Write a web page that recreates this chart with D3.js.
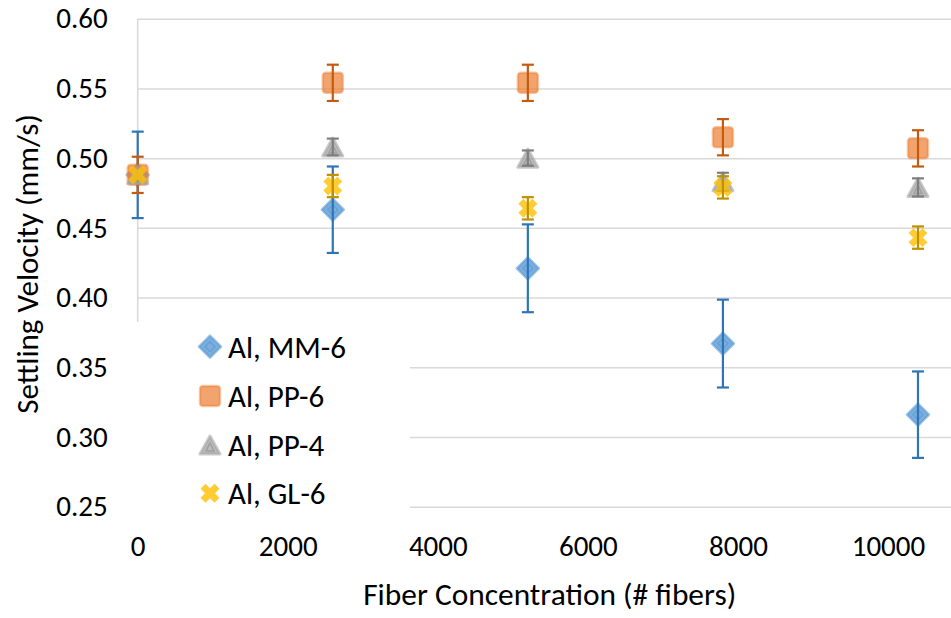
<!DOCTYPE html>
<html>
<head>
<meta charset="utf-8">
<script src="https://cdn.jsdelivr.net/npm/d3@7"></script>
<style>
  html, body { margin: 0; padding: 0; background: #fff; }
  svg { display: block; font-family: Carlito, Calibri, Lato, "Open Sans", sans-serif; }
</style>
</head>
<body>
<svg id="chart" width="951" height="618"></svg>
<script>
// ---- data ----
const fiberCounts = [0, 2600, 5200, 7800, 10400];
const seriesNames = ["Al, MM-6", "Al, PP-6", "Al, PP-4", "Al, GL-6"];
const mm6Values = [0.488, 0.463, 0.421, 0.367, 0.316];
const mm6Errors = [0.031, 0.031, 0.0315, 0.0315, 0.031];
const pp6Values = [0.488, 0.554, 0.554, 0.515, 0.507];
const pp6Errors = [0.013, 0.013, 0.013, 0.013, 0.013];
const pp4Values = [0.488, 0.508, 0.500, 0.483, 0.479];
const pp4Errors = [null, 0.006, 0.0055, 0.0065, 0.0065];
const gl6Values = [0.488, 0.480, 0.464, 0.479, 0.443];
const gl6Errors = [null, 0.008, 0.008, 0.008, 0.008];
const xTicks = [0, 2000, 4000, 6000, 8000, 10000];
const yTicks = [0.25, 0.30, 0.35, 0.40, 0.45, 0.50, 0.55, 0.60];
const xTitle = "Fiber Concentration (# fibers)";
const yTitle = "Settling Velocity (mm/s)";

const series = [
  { name: seriesNames[0], values: mm6Values, errors: mm6Errors, shape: "diamond", fill: "#5B9BD5", err: "#2E75B6" },
  { name: seriesNames[1], values: pp6Values, errors: pp6Errors, shape: "square",  fill: "#ED7D31", err: "#C55A11" },
  { name: seriesNames[2], values: pp4Values, errors: pp4Errors, shape: "triangle",fill: "#A5A5A5", err: "#7F7F7F" },
  { name: seriesNames[3], values: gl6Values, errors: gl6Errors, shape: "x",       fill: "#FFC000", err: "#BF9000" }
];

// ---- layout ----
const svg = d3.select("#chart");
const plot = { left: 137.7, right: 951, top: 18.7, bottom: 506.7 };
const x = d3.scaleLinear().domain([0, 10840]).range([plot.left, plot.right]);
const y = d3.scaleLinear().domain([0.25, 0.60]).range([plot.bottom, plot.top]);
const gridColor = "#D9D9D9";
const fontSize = 31;
const tickFontSize = 29;

// gridlines
svg.append("g")
  .attr("transform", `translate(${plot.left},0)`)
  .call(d3.axisLeft(y).tickValues(yTicks).tickSize(-(plot.right - plot.left)).tickFormat(""))
  .call(g => g.select(".domain").remove())
  .call(g => g.selectAll("line").attr("stroke", gridColor).attr("stroke-width", 1.5));

// vertical axis line
svg.append("line")
  .attr("x1", plot.left).attr("x2", plot.left)
  .attr("y1", y(0.60)).attr("y2", y(0.25))
  .attr("stroke", gridColor).attr("stroke-width", 1.5);

// y tick labels
svg.append("g")
  .attr("transform", `translate(${plot.left},0)`)
  .call(d3.axisLeft(y).tickValues(yTicks).tickSize(0).tickPadding(30).tickFormat(d3.format(".2f")))
  .attr("font-family", null).attr("font-size", null)
  .call(g => g.select(".domain").remove())
  .call(g => g.selectAll("text").attr("font-size", tickFontSize).attr("fill", "#000"));

// x tick labels
svg.append("g")
  .attr("transform", `translate(0,${plot.bottom})`)
  .call(d3.axisBottom(x).tickValues(xTicks).tickSize(0).tickPadding(29).tickFormat(d3.format("d")))
  .attr("font-family", null).attr("font-size", null)
  .call(g => g.select(".domain").remove())
  .call(g => g.selectAll("text").attr("font-size", tickFontSize).attr("fill", "#000"));

// axis titles
svg.append("text")
  .attr("x", 549.7).attr("y", 605)
  .attr("text-anchor", "middle")
  .attr("font-size", 31.4)
  .text(xTitle);

svg.append("text")
  .attr("transform", `translate(38,264) rotate(-90)`)
  .attr("text-anchor", "middle")
  .attr("font-size", fontSize)
  .text(yTitle);

// marker drawer
function drawMarker(g, s) {
  if (s.shape === "diamond") {
    g.append("path").attr("d", "M0,-11L11,0L0,11L-11,0Z")
      .attr("fill", s.fill).attr("fill-opacity", 0.8)
      .attr("stroke", s.fill).attr("stroke-opacity", 0.6).attr("stroke-width", 2.5).attr("stroke-linejoin", "round");
    g.append("path").attr("d", "M0,-5L5,0L0,5L-5,0Z")
      .attr("fill", "none").attr("stroke", s.fill).attr("stroke-opacity", 0.7).attr("stroke-width", 1.5);
  } else if (s.shape === "square") {
    g.append("rect").attr("x", -10).attr("y", -10).attr("width", 20).attr("height", 20).attr("rx", 3)
      .attr("fill", s.fill).attr("fill-opacity", 0.7)
      .attr("stroke", s.fill).attr("stroke-opacity", 0.45).attr("stroke-width", 2.5);
  } else if (s.shape === "triangle") {
    g.append("path").attr("d", "M0,-9L10,9L-10,9Z")
      .attr("fill", s.fill).attr("fill-opacity", 0.75)
      .attr("stroke", s.fill).attr("stroke-opacity", 0.6).attr("stroke-width", 3).attr("stroke-linejoin", "round");
    g.append("path").attr("d", "M0,-2L4,6L-4,6Z")
      .attr("fill", "none").attr("stroke", "#8c8c8c").attr("stroke-opacity", 0.6).attr("stroke-width", 1.5);
  } else if (s.shape === "x") {
    g.append("path").attr("d", "M-7,-7L7,7M7,-7L-7,7")
      .attr("fill", "none").attr("stroke", s.fill).attr("stroke-opacity", 0.8)
      .attr("stroke-width", 7).attr("stroke-linecap", "butt");
  }
}

// series: markers then error bars
series.forEach(s => {
  const g = svg.append("g");
  s.values.forEach((v, i) => {
    const m = g.append("g").attr("transform", `translate(${x(fiberCounts[i])},${y(v)})`);
    drawMarker(m, s);
  });
  s.values.forEach((v, i) => {
    const e = s.errors[i];
    if (e == null) return;
    const cx = x(fiberCounts[i]);
    const y1 = y(v + e), y2 = y(v - e);
    g.append("line").attr("x1", cx).attr("x2", cx).attr("y1", y1).attr("y2", y2)
      .attr("stroke", s.err).attr("stroke-width", 2.2);
    [y1, y2].forEach(yy => {
      g.append("line").attr("x1", cx - 6).attr("x2", cx + 6).attr("y1", yy).attr("y2", yy)
        .attr("stroke", s.err).attr("stroke-width", 2.2);
    });
  });
});

// legend
const legend = svg.append("g");
legend.append("rect")
  .attr("x", 128).attr("y", 322).attr("width", 282).attr("height", 196)
  .attr("fill", "#fff");
const legendRowY = [346.7, 396, 445, 493.3];
series.forEach((s, i) => {
  const row = legend.append("g").attr("transform", `translate(210,${legendRowY[i]})`);
  drawMarker(row, s);
  row.append("text").attr("x", 18).attr("y", 0).attr("dy", "0.35em")
    .attr("font-size", fontSize).text(s.name);
});
</script>
</body>
</html>
